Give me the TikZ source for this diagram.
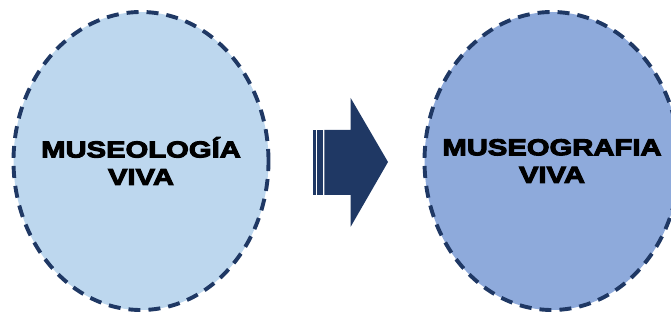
\documentclass[tikz,border=0pt]{standalone}
\usepackage{fontspec}
\usetikzlibrary{shapes.geometric}
\newfontfamily\labelfont[FakeStretch=1.27,FakeBold=4.5]{Liberation Sans}
\definecolor{navy}{HTML}{1F3864}
\definecolor{paleblue}{HTML}{BDD7EE}
\definecolor{midblue}{HTML}{8EAADB}
\tikzset{
  bubble/.style={ellipse, draw=navy, line width=3.9pt,
    dash pattern=on 12pt off 8pt, inner sep=0pt,
    minimum width=255pt, minimum height=298pt},
  caption/.style={font=\labelfont\bfseries\fontsize{23}{27.5}\selectfont,
    align=center, text=black, inner sep=0pt},
  arrowpart/.style={fill=navy, draw=none}
}
\begin{document}
\begin{tikzpicture}[x=1pt, y=-1pt]
  \useasboundingbox (0,0) rectangle (671,320);
  \clip (0,0) rectangle (671,320);
  % the two bubbles
  \node[bubble, fill=paleblue] (left) at (141,161) {};
  \node[bubble, fill=midblue] (right) at (552,161) {};
  \node[caption] (lefttext) at (left.center) {MUSEOLOGÍA\\VIVA};
  \node[caption] (righttext) at (right.center) {MUSEOGRAFIA\\VIVA};
  % striped block arrow between them
  \fill[arrowpart] (312.7,130) rectangle (315.7,195);
  \fill[arrowpart] (317.3,130) rectangle (322.7,195);
  \fill[arrowpart] (324.3,130) -- (350.7,130) -- (350.7,98) -- (388,162)
    -- (350.7,226.7) -- (350.7,195) -- (324.3,195) -- cycle;
\end{tikzpicture}
\end{document}
